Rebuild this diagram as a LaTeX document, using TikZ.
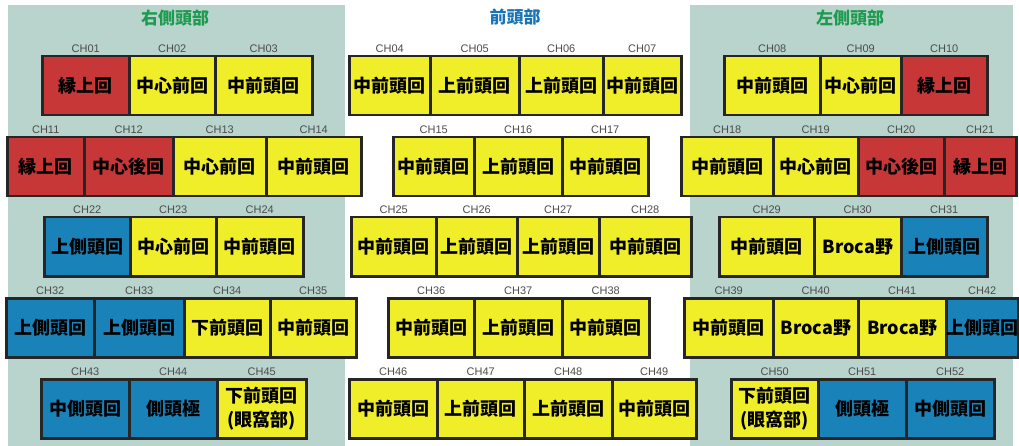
\documentclass[tikz,border=0pt]{standalone}
\usepackage{fontspec}
\setmainfont{Noto Sans CJK JP}
\newfontfamily\chfont{Liberation Sans}
\definecolor{panelgray}{RGB}{184,212,204}
\definecolor{sidegreen}{RGB}{30,155,80}
\definecolor{frontblue}{RGB}{25,115,180}
\definecolor{redgyr}{RGB}{200,55,55}
\definecolor{yelgyr}{RGB}{240,238,40}
\definecolor{bluegyr}{RGB}{25,130,185}
\tikzset{
	chbox/.style={
			draw=black!85, line width=2.5pt, inner sep=0pt, anchor=north west,
			minimum height=59pt, align=center,
			font=\fontsize{18}{24}\selectfont\bfseries
		},
	chlab/.style={font=\chfont\fontsize{11}{11}\selectfont, text=black!70, inner sep=0.5pt},
	head/.style={font=\fontsize{17}{17}\selectfont\bfseries}
}

\begin{document}
\begin{tikzpicture}[x=1pt, y=-1pt, label distance=1.5pt]

			\useasboundingbox (0,0) rectangle (1019,446);

			% Draw the side panels
			\fill[panelgray] (8,5) rectangle (345,446);
			\fill[panelgray] (690,5) rectangle (1013,446);

			% Draw the headers
			\node[head, text=sidegreen] (rhead) at (175,18) {右側頭部};
			\node[head, text=frontblue] (fhead) at (515,17) {前頭部};
			\node[head, text=sidegreen] (lhead) at (850,18) {左側頭部};

			% Row 1
			\foreach \n/\a/\b/\c/\t in {01/41/128/redgyr/縁上回, 02/128/214/yelgyr/中心前回, 03/214/311/yelgyr/中前頭回,
					04/348/429/yelgyr/中前頭回, 05/429/518/yelgyr/上前頭回, 06/518/602/yelgyr/上前頭回, 07/602/680/yelgyr/中前頭回,
					08/723/819/yelgyr/中前頭回, 09/819/900/yelgyr/中心前回, 10/900/986/redgyr/縁上回}
				\node[chbox, fill=\c, minimum width={(\b-\a)*1pt}, label={[chlab]above:CH\n}] (ch\n) at (\a,55) {\t};

			% Row 2
			\foreach \n/\a/\b/\c/\t in {11/6/83/redgyr/縁上回, 12/83/172/redgyr/中心後回, 13/172/265/yelgyr/中心前回, 14/265/360/yelgyr/中前頭回,
					15/392/473/yelgyr/中前頭回, 16/473/561/yelgyr/上前頭回, 17/561/647/yelgyr/中前頭回,
					18/680/772/yelgyr/中前頭回, 19/772/857/yelgyr/中心前回, 20/857/943/redgyr/中心後回, 21/943/1015/redgyr/縁上回}
				\node[chbox, fill=\c, minimum width={(\b-\a)*1pt}, label={[chlab]above:CH\n}] (ch\n) at (\a,136) {\t};

			% Row 3
			\foreach \n/\a/\b/\c/\t in {22/43/129/bluegyr/上側頭回, 23/129/215/yelgyr/中心前回, 24/215/302/yelgyr/中前頭回,
					25/350/435/yelgyr/中前頭回, 26/435/516/yelgyr/上前頭回, 27/516/598/yelgyr/上前頭回, 28/598/690/yelgyr/中前頭回,
					29/718/813/yelgyr/中前頭回, 30/813/900/yelgyr/Broca野, 31/900/986/bluegyr/上側頭回}
				\node[chbox, fill=\c, minimum width={(\b-\a)*1pt}, label={[chlab]above:CH\n}] (ch\n) at (\a,216) {\t};

			% Row 4
			\foreach \n/\a/\b/\c/\t in {32/5/93/bluegyr/上側頭回, 33/93/183/bluegyr/上側頭回, 34/183/269/yelgyr/下前頭回, 35/269/355/yelgyr/中前頭回,
					36/387/473/yelgyr/中前頭回, 37/473/561/yelgyr/上前頭回, 38/561/648/yelgyr/中前頭回,
					39/683/772/yelgyr/中前頭回, 40/772/857/yelgyr/Broca野, 41/857/945/yelgyr/Broca野, 42/945/1015/bluegyr/上側頭回}
				\node[chbox, fill=\c, minimum width={(\b-\a)*1pt}, label={[chlab]above:CH\n}] (ch\n) at (\a,297) {\t};

			% Row 5
			\foreach \n/\a/\b/\c/\t in {43/40/128/bluegyr/中側頭回, 44/128/216/bluegyr/側頭極, 45/216/305/yelgyr/{下前頭回\\(眼窩部)},
					46/348/436/yelgyr/中前頭回, 47/436/523/yelgyr/上前頭回, 48/523/611/yelgyr/上前頭回, 49/611/695/yelgyr/中前頭回,
					50/730/817/yelgyr/{下前頭回\\(眼窩部)}, 51/817/905/bluegyr/側頭極, 52/905/993/bluegyr/中側頭回}
				\node[chbox, fill=\c, minimum width={(\b-\a)*1pt}, label={[chlab]above:CH\n}] (ch\n) at (\a,378) {\t};
		\end{tikzpicture}
\end{document}
